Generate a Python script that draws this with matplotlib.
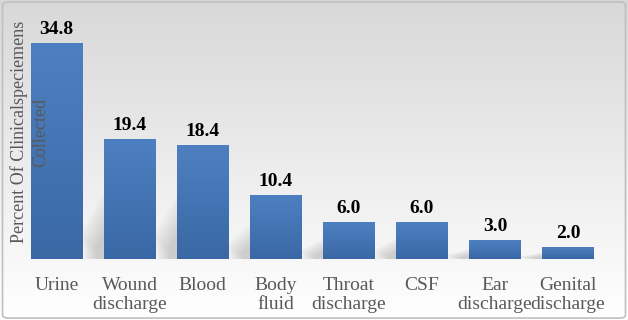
import numpy as np
import matplotlib
matplotlib.use("Agg")
import matplotlib.pyplot as plt
from matplotlib.colors import LinearSegmentedColormap
from matplotlib.patches import FancyBboxPatch, Polygon

categories = ["Urine", "Wound\ndischarge", "Blood", "Body\nfluid", "Throat\ndischarge",
              "CSF", "Ear\ndischarge", "Genital\ndischarge"]
values = [34.8, 19.4, 18.4, 10.4, 6.0, 6.0, 3.0, 2.0]
ylabel_lines = ["Percent Of Clinicalspeciemens", "Collected"]

plt.rcParams['font.family'] = ['Liberation Serif', 'DejaVu Serif']

fig = plt.figure(figsize=(6.28, 3.2), dpi=100)

# background gradient for the whole chart area
bg = fig.add_axes([0, 0, 1, 1], zorder=-10)
grad = np.linspace(0, 1, 256).reshape(-1, 1)
bg_cmap = LinearSegmentedColormap.from_list("bg", ["#ffffff", "#d8d8d8"])
bg.imshow(grad, aspect="auto", cmap=bg_cmap, origin="lower", extent=[0, 1, 0, 1])
bg.set_xlim(0, 1)
bg.set_ylim(0, 1)
bg.axis("off")

ax = fig.add_axes([0.0202, 0.1906, 0.954, 0.775])
ax.patch.set_alpha(0)
x = np.arange(len(values))
width = 0.7

# soft shadows behind bars (layered for a blurred look)
for i, v in enumerate(values):
    if i == 0:
        continue
    left = i - width / 2
    n = 10
    for k in range(n):
        s = 1 - k * 0.07
        poly = Polygon([(left, 0), (left, v * 0.55 * s), (left - 0.32 * s, v * 0.22 * s),
                        (left - 0.28 * s, 0)], closed=True, facecolor="#707070",
                       edgecolor="none", alpha=0.03, zorder=1)
        ax.add_patch(poly)

bars = ax.bar(x, values, width=width, color="#4575b5", edgecolor="none", zorder=2)
bar_cmap = LinearSegmentedColormap.from_list("bar", ["#3a68a5", "#4e80c1"])
for b in bars:
    im = ax.imshow(grad, aspect="auto", cmap=bar_cmap, origin="lower",
                   extent=[b.get_x(), b.get_x() + b.get_width(), 0, b.get_height()], zorder=3)
    im.set_clip_path(b)

for xi, v in zip(x, values):
    ax.text(xi, v + 0.8, f"{v:.1f}", ha="center", va="bottom", fontsize=14,
            fontweight="bold", color="black", zorder=5)

ax.set_xlim(-0.6, 7.6)
ax.set_ylim(0, 40)
ax.set_xticks(x)
ax.set_xticklabels(categories, fontsize=14, color="#595959", linespacing=1.12)
ax.tick_params(axis="x", length=0, pad=13)
ax.set_yticks([])
for s in ax.spines.values():
    s.set_visible(False)

fig.text(19 / 628, 0.5875, ylabel_lines[0], rotation=90, ha="center", va="center",
         fontsize=13, color="#595959", zorder=10)
fig.text(41 / 628, 0.5875, ylabel_lines[1], rotation=90, ha="center", va="center",
         fontsize=13, color="#595959", zorder=10)

# rounded outer border
border = FancyBboxPatch((0.004, 0.006), 0.992, 0.988, boxstyle="round,pad=0,rounding_size=0.01",
                        transform=fig.transFigure, facecolor="none", edgecolor="#bfbfbf",
                        linewidth=1.2, zorder=20)
fig.patches.append(border)

fig.savefig("out.png", dpi=100)
